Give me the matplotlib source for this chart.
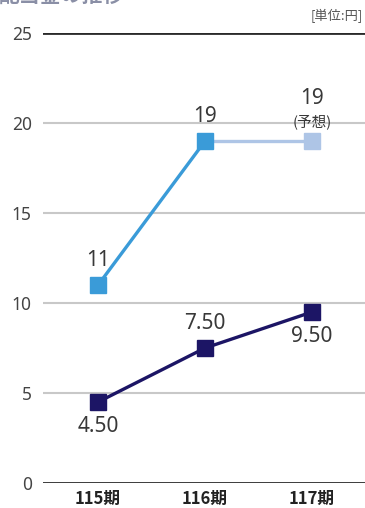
import matplotlib.pyplot as plt

plt.rcParams['font.family'] = ['Noto Sans', 'Noto Sans CJK JP', 'DejaVu Sans']

periods = ['115', '116', '117']
upper = [11, 19, 19]
lower = [4.50, 7.50, 9.50]
upper_labels = ['11', '19', '19']
lower_labels = ['4.50', '7.50', '9.50']
yticks = [0, 5, 10, 15, 20, 25]

x = list(range(len(periods)))

fig = plt.figure(figsize=(3.65, 5.08), dpi=100)
ax = fig.add_axes([43 / 365, 25 / 508, 1 - 43 / 365, 450 / 508])

for y in [5, 10, 15, 20]:
    ax.axhline(y, color='#c8c8c8', lw=1.5, zorder=1)
for y in [0, 25]:
    ax.axhline(y, color='#2a2a2a', lw=2, zorder=1)

# 上の系列 (最後の区間は予想で薄い色)
ax.plot(x[:2], upper[:2], color='#3a9bd8', lw=2.4, marker='s', ms=11.5, zorder=3)
ax.plot(x[1:], upper[1:], color='#aec5e6', lw=2.4, zorder=2)
ax.plot(x[2], upper[2], color='#aec5e6', marker='s', ms=11.5, zorder=3)
ax.plot(x, lower, color='#1c1565', lw=2.4, marker='s', ms=11.5, zorder=3)

tc = '#383838'
kw = dict(ha='center', fontsize=15, color=tc, fontweight='light')
ax.text(x[0], upper[0] + 0.8, upper_labels[0], va='bottom', **kw)
ax.text(x[1], upper[1] + 0.75, upper_labels[1], va='bottom', **kw)
ax.text(x[2], upper[2] + 1.8, upper_labels[2], va='bottom', **kw)
ax.text(x[2], upper[2] + 0.65, '(予想)', ha='center', va='bottom', fontsize=10.5, color=tc,
        family=['Noto Sans CJK JP'])
ax.text(x[0], lower[0] - 0.8, lower_labels[0], va='top', **kw)
ax.text(x[1], lower[1] + 0.8, lower_labels[1], va='bottom', **kw)
ax.text(x[2], lower[2] - 0.8, lower_labels[2], va='top', **kw)

ax.set_xlim(-0.515, 2.495)
ax.set_ylim(0, 25)
ax.set_yticks(yticks)
ax.set_yticklabels([str(v) for v in yticks], fontsize=12.5, color='#444444', fontweight='light')
ax.set_xticks(x)
ax.set_xticklabels([p + '期' for p in periods], fontsize=12, fontweight='bold',
                   color='#222222', family=['Noto Sans CJK JP'])
ax.tick_params(axis='y', length=0, pad=8)
ax.tick_params(axis='x', length=0, pad=5)
for s in ax.spines.values():
    s.set_visible(False)
ax.patch.set_alpha(0)

fig.text(0.993, 0.982, '[単位:円]', ha='right', va='top', fontsize=9.5, color='#555555',
         family=['Noto Sans CJK JP'])
# 上端で切れているタイトル
fig.text(-0.005, 1.01, '配当金の推移', ha='left', va='center', fontsize=15,
         color='#8a8fa6', fontweight='bold', family=['Noto Sans CJK JP'])

fig.savefig('out.png', dpi=100)
